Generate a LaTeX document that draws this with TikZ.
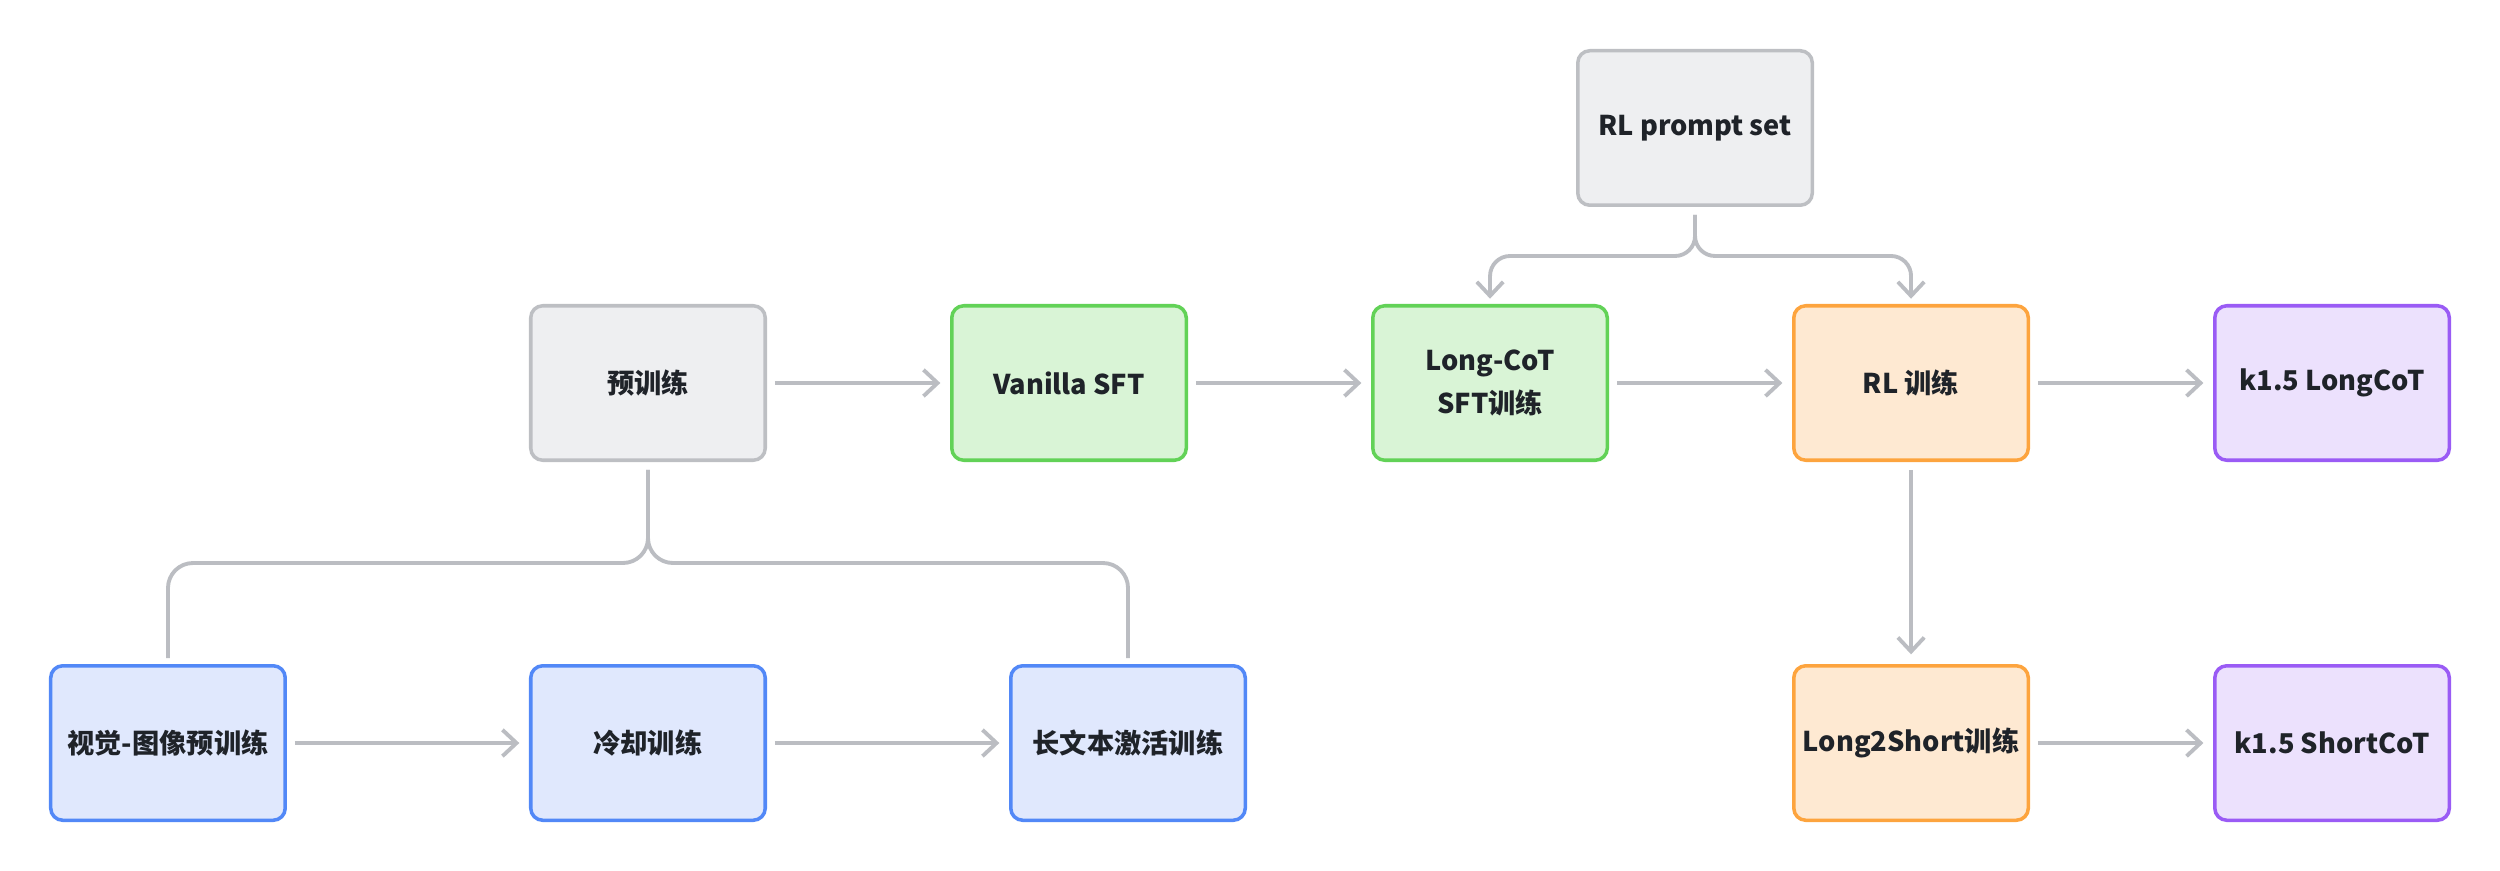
\documentclass[tikz,border=0pt]{standalone}
\usepackage{fontspec}
\setmainfont{Noto Sans CJK SC}
\usepackage{tikz}
\usetikzlibrary{arrows.meta,positioning,calc}

\definecolor{linegray}{HTML}{BBBDC2}
\definecolor{txt}{HTML}{1F2329}
\definecolor{grayfill}{HTML}{EEEFF1}
\definecolor{graydraw}{HTML}{BDBFC3}
\definecolor{greenfill}{HTML}{D9F4D6}
\definecolor{greendraw}{HTML}{62D257}
\definecolor{bluefill}{HTML}{E0E8FD}
\definecolor{bluedraw}{HTML}{5288F7}
\definecolor{orangefill}{HTML}{FEE9D2}
\definecolor{orangedraw}{HTML}{FDA43E}
\definecolor{purplefill}{HTML}{ECE1FD}
\definecolor{purpledraw}{HTML}{9A5BF5}

\begin{document}
\begin{tikzpicture}[>={Straight Barb[length=8pt,width=15pt]}, line width=2.2pt, draw=linegray, node distance=4.04cm and 3.66cm, shorten >=5.5pt, shorten <=4.5pt]

  \tikzstyle{box}=[rectangle, rounded corners=0.24cm, line width=2pt, minimum width=4.69cm, minimum height=3.09cm, inner sep=0pt, align=center, text=txt, font=\fontsize{15.5}{24}\selectfont\bfseries]
  \tikzstyle{graybox}=[box, fill=grayfill, draw=graydraw]
  \tikzstyle{greenbox}=[box, fill=greenfill, draw=greendraw]
  \tikzstyle{bluebox}=[box, fill=bluefill, draw=bluedraw]
  \tikzstyle{orangebox}=[box, fill=orangefill, draw=orangedraw]
  \tikzstyle{purplebox}=[box, fill=purplefill, draw=purpledraw]
  \tikzstyle{conn}=[draw=linegray, line width=2.2pt, rounded corners=0.5cm]

  \useasboundingbox (-12.96,-9.74) rectangle (37.04,7.66);

  \node[graybox]   (pre)                      {预训练};
  \node[greenbox]  (vsft)     [right=of pre]  {Vanilla SFT};
  \node[greenbox]  (lcot)     [right=of vsft] {Long-CoT\\SFT训练};
  \node[orangebox] (rl)       [right=of lcot] {RL 训练};
  \node[purplebox] (longcot)  [right=of rl]   {k1.5 LongCoT};

  \coordinate (mid) at ($(lcot.north)!0.5!(rl.north)+(-0.11,0)$);
  \node[graybox]   (prompt)   [above=1.94cm of mid] {RL prompt set};

  \node[bluebox]   (cool)     [below=of pre]          {冷却训练};
  \node[bluebox]   (vis)      [left=4.84cm of cool]   {视觉-图像预训练};
  \node[bluebox]   (longtxt)  [right=4.84cm of cool]  {长文本激活训练};
  \node[orangebox] (l2s)      [below=of rl]           {Long2Short训练};
  \node[purplebox] (shortcot) [below=of longcot]      {k1.5 ShortCoT};

  \path[conn, ->] (pre) edge (vsft)
        (vsft) edge (lcot)
        (lcot) edge (rl)
        (rl) edge (longcot)
        (rl) edge (l2s)
        (l2s) edge (shortcot)
        (vis) edge (cool)
        (cool) edge (longtxt);

  \draw[conn, shorten >=3.4pt] (pre.south) -- ++(0,-2.02) -| (vis.north);
  \draw[conn, shorten >=3.4pt] (pre.south) -- ++(0,-2.02) -| (longtxt.north);

  \draw[conn, ->, rounded corners=0.4cm, shorten >=3pt] (prompt.south) -- ++(0,-0.98) -| (lcot.north);
  \draw[conn, ->, rounded corners=0.4cm, shorten >=3pt] (prompt.south) -- ++(0,-0.98) -| (rl.north);
\end{tikzpicture}
\end{document}
